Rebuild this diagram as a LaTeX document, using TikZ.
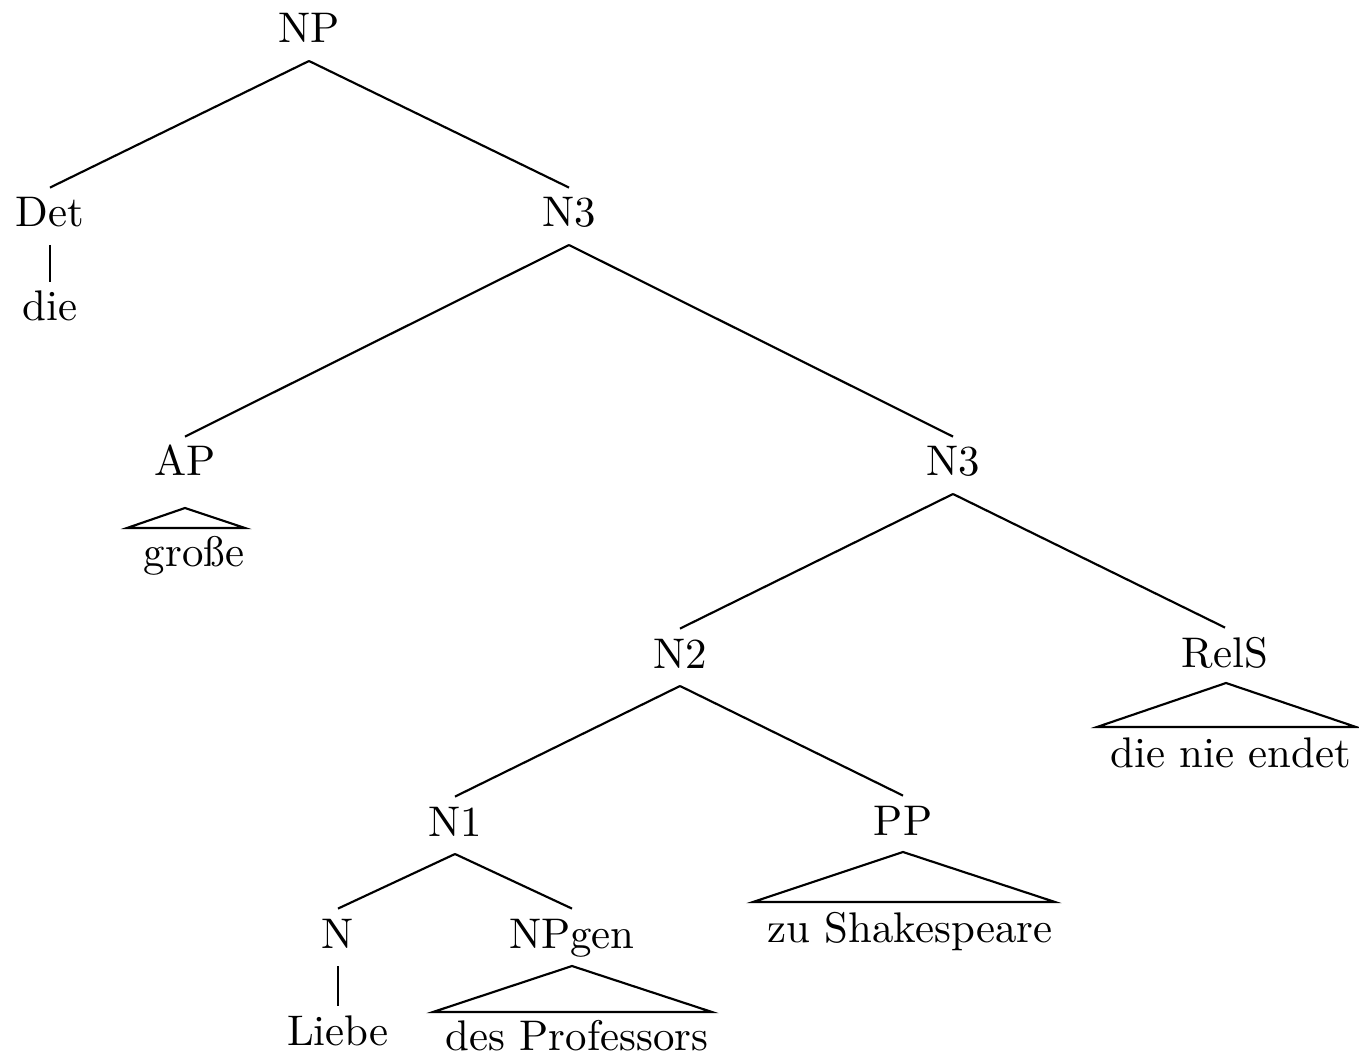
\documentclass[tikz,border=0pt]{standalone}
\begin{document}
\begin{tikzpicture}[x=0.2334pt,y=-0.2334pt,
  lbl/.style={anchor=base,inner xsep=0pt,inner ysep=2pt,text height=7pt,text depth=2pt},
  edge/.style={line width=0.5pt}]
\useasboundingbox (0,0) rectangle (1359,1058);
% nodes
\node[lbl] (NP) at (309,43) {NP};
\node[lbl] (Det) at (50,227) {Det};
\node[lbl] (die) at (50,321) {die};
\node[lbl] (N3a) at (569,227) {N3};
\node[lbl] (AP) at (185,476) {AP};
\node[lbl] (grosse) at (194,567) {große};
\node[lbl] (N3b) at (953,476) {N3};
\node[lbl] (N2) at (680,668) {N2};
\node[lbl] (RelS) at (1225,667) {RelS};
\node[lbl] (dne) at (1231,767) {die nie endet};
\node[lbl] (N1) at (455,836) {N1};
\node[lbl] (PP) at (903,835) {PP};
\node[lbl] (zuS) at (910,942) {zu Shakespeare};
\node[lbl] (N) at (338,948) {N};
\node[lbl] (NPgen) at (572,948) {NPgen};
\node[lbl] (Liebe) at (338,1045) {Liebe};
\node[lbl] (desP) at (577,1050) {des Professors};
% triangle corners
\coordinate (apT) at (185,508);  \coordinate (apL) at (127,528);  \coordinate (apR) at (245,528);
\coordinate (rsT) at (1226,683); \coordinate (rsL) at (1097,727); \coordinate (rsR) at (1356,727);
\coordinate (ppT) at (903,852);  \coordinate (ppL) at (753,902);  \coordinate (ppR) at (1055,902);
\coordinate (ngT) at (572,966);  \coordinate (ngL) at (433,1012); \coordinate (ngR) at (712,1012);
% edges
\draw[edge] (NP.south) -- (Det.north);
\draw[edge] (NP.south) -- (N3a.north);
\draw[edge] (Det.south) -- (die.north);
\draw[edge] (N3a.south) -- (AP.north);
\draw[edge] (N3a.south) -- (N3b.north);
\draw[edge] (N3b.south) -- (N2.north);
\draw[edge] (N3b.south) -- (RelS.north);
\draw[edge] (N2.south) -- (N1.north);
\draw[edge] (N2.south) -- (PP.north);
\draw[edge] (N1.south) -- (N.north);
\draw[edge] (N1.south) -- (NPgen.north);
\draw[edge] (N.south) -- (Liebe.north);
% triangles
\draw[edge] (apL) -- (apT) -- (apR) -- cycle;
\draw[edge] (rsL) -- (rsT) -- (rsR) -- cycle;
\draw[edge] (ppL) -- (ppT) -- (ppR) -- cycle;
\draw[edge] (ngL) -- (ngT) -- (ngR) -- cycle;
\end{tikzpicture}
\end{document}
